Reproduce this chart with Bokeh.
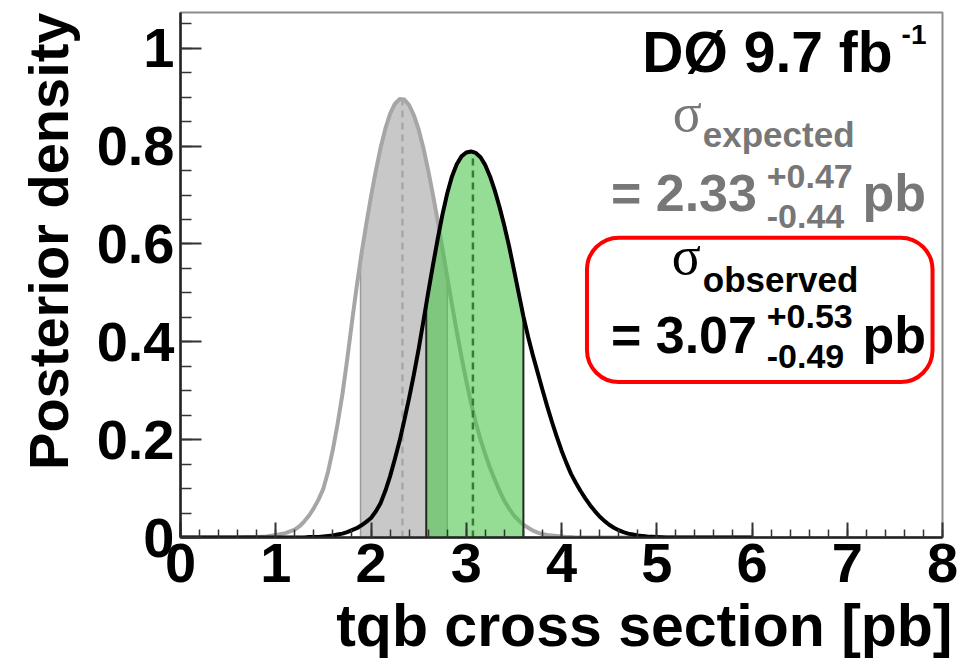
import numpy as np
from bokeh.plotting import figure
from bokeh.models import Range1d, FixedTicker, CustomJSTickFormatter, Label, BoxAnnotation, Title
from bokeh.embed import file_html
from bokeh.resources import INLINE

# ---------------- data ----------------
cross_section = [0.0, 0.1, 0.2, 0.3, 0.4, 0.5, 0.6, 0.7, 0.8, 0.9, 1.0, 1.1,
                 1.20, 1.25, 1.30, 1.35, 1.40, 1.45, 1.50, 1.55, 1.60, 1.65,
                 1.70, 1.75, 1.80, 1.85, 1.90, 1.95, 2.00, 2.05, 2.10, 2.15,
                 2.20, 2.25, 2.30, 2.35, 2.40, 2.45, 2.50, 2.55, 2.60, 2.65,
                 2.70, 2.75, 2.80, 2.85, 2.90, 2.95, 3.00, 3.05, 3.10, 3.15,
                 3.20, 3.25, 3.30, 3.35, 3.40, 3.45, 3.50, 3.55, 3.60, 3.65,
                 3.70, 3.75, 3.80, 3.85, 3.90, 3.95, 4.00, 4.05, 4.10, 4.15,
                 4.20, 4.25, 4.30, 4.35, 4.40, 4.45, 4.50, 4.55, 4.60, 4.65,
                 4.70, 4.75, 4.80,
                 4.9, 5.0, 5.1, 5.2, 5.3, 5.4, 5.5, 5.6, 5.7, 5.8, 5.9, 6.0]

expected_posterior = [0, 0, 0, 0, 0, 0, 0, 0.001, 0.001, 0.002, 0.005, 0.009,
                      0.016, 0.023, 0.033, 0.045, 0.060, 0.078, 0.100, 0.135, 0.180, 0.233,
                      0.293, 0.364, 0.440, 0.513, 0.580, 0.640, 0.697, 0.749, 0.796, 0.835,
                      0.866, 0.886, 0.896, 0.895, 0.884, 0.863, 0.834, 0.796, 0.751, 0.701,
                      0.647, 0.590, 0.533, 0.476, 0.421, 0.369, 0.320, 0.275, 0.235, 0.200,
                      0.170, 0.142, 0.118, 0.095, 0.075, 0.059, 0.045, 0.035, 0.026, 0.020,
                      0.014, 0.010, 0.007, 0.005, 0.004, 0.003, 0.002, 0.001, 0.001, 0,
                      0, 0, 0, 0, 0, 0, 0, 0, 0, 0,
                      0, 0, 0,
                      0, 0, 0, 0, 0, 0, 0, 0, 0, 0, 0, 0]

observed_posterior = [0, 0, 0, 0, 0, 0, 0, 0, 0, 0, 0, 0,
                      0, 0, 0, 0.001, 0.001, 0.001, 0.002, 0.003, 0.004, 0.006,
                      0.008, 0.011, 0.015, 0.019, 0.025, 0.032, 0.040, 0.053, 0.070, 0.095,
                      0.125, 0.160, 0.197, 0.240, 0.285, 0.333, 0.385, 0.442, 0.500, 0.556,
                      0.610, 0.660, 0.703, 0.738, 0.763, 0.779, 0.787, 0.789, 0.786, 0.777,
                      0.761, 0.738, 0.709, 0.675, 0.637, 0.595, 0.548, 0.500, 0.452, 0.410,
                      0.372, 0.337, 0.302, 0.268, 0.236, 0.206, 0.178, 0.153, 0.130, 0.112,
                      0.095, 0.080, 0.066, 0.054, 0.043, 0.034, 0.026, 0.020, 0.015, 0.011,
                      0.008, 0.006, 0.004,
                      0.002, 0.001, 0, 0, 0, 0, 0, 0, 0, 0, 0, 0]

expected_value = 2.33
expected_plus = 0.47
expected_minus = 0.44
observed_value = 3.07
observed_plus = 0.53
observed_minus = 0.49

x_ticks = [0, 1, 2, 3, 4, 5, 6, 7, 8]
y_ticks = [0.0, 0.2, 0.4, 0.6, 0.8, 1.0]
x_title = "tqb cross section [pb]"
y_title = "Posterior density"
lumi_text = "DØ 9.7 fb"
lumi_sup = "-1"

# ---------------- figure ----------------
W, H = 962, 664
ML, MR, MT, MB = 179, 20, 12, 125
XMAX, YMAX = 8.0, 1.073

p = figure(width=W, height=H, output_backend="svg", toolbar_location=None,
           x_range=Range1d(0, XMAX), y_range=Range1d(0, YMAX),
           min_border_left=ML, min_border_right=MR, min_border_top=MT, min_border_bottom=MB)
p.grid.visible = False
p.background_fill_color = "white"
p.border_fill_color = "white"
p.outline_line_color = "#8c8c8c"
p.outline_line_width = 2

FRAME_W = W - ML - MR
FRAME_H = H - MT - MB


def px2x(px):
    return (px - ML) / FRAME_W * XMAX


def py2y(py):
    return ((H - MB) - py) / FRAME_H * YMAX


FONT = "Liberation Sans"

# x axis
p.xaxis.ticker = FixedTicker(ticks=x_ticks,
                             minor_ticks=np.round(np.arange(0, XMAX + 0.001, 0.2), 2).tolist())
p.xaxis.major_tick_in = 15
p.xaxis.major_tick_out = 0
p.xaxis.minor_tick_in = 8
p.xaxis.minor_tick_out = 0
p.xaxis.major_label_standoff = 6

# y axis
p.yaxis.ticker = FixedTicker(ticks=y_ticks,
                             minor_ticks=np.round(np.arange(0, 1.0501, 0.05), 3).tolist())
p.yaxis.formatter = CustomJSTickFormatter(code="return (Math.round(tick*10)/10).toString();")
p.yaxis.major_tick_in = 21
p.yaxis.major_tick_out = 0
p.yaxis.minor_tick_in = 11
p.yaxis.minor_tick_out = 0
p.yaxis.major_label_standoff = 6

for ax in (p.xaxis[0], p.yaxis[0]):
    ax.axis_line_color = "#222222"
    ax.axis_line_width = 2.5
    ax.major_tick_line_color = "#333333"
    ax.major_tick_line_width = 2
    ax.minor_tick_line_color = "#333333"
    ax.minor_tick_line_width = 1.5
    ax.major_label_text_font = FONT
    ax.major_label_text_font_style = "bold"
    ax.major_label_text_font_size = "56px"
    ax.major_label_text_color = "black"

# axis titles, right-aligned as in the reference
p.add_layout(Title(text=x_title, align="right", offset=-10, standoff=12,
                   text_font=FONT, text_font_size="59px", text_font_style="bold",
                   text_color="black"), "below")
p.add_layout(Title(text=y_title, align="right", offset=0, standoff=28,
                   text_font=FONT, text_font_size="56px", text_font_style="bold",
                   text_color="black"), "left")

xs = np.array(cross_section)
ye = np.array(expected_posterior)
yo = np.array(observed_posterior)


def band(ys, lo, hi):
    inside = (xs > lo) & (xs < hi)
    bx = np.concatenate([[lo], xs[inside], [hi]])
    by = np.concatenate([[np.interp(lo, xs, ys)], ys[inside], [np.interp(hi, xs, ys)]])
    return bx, by


e_lo, e_hi = expected_value - expected_minus, expected_value + expected_plus
o_lo, o_hi = observed_value - observed_minus, observed_value + observed_plus

# expected band
bx, by = band(ye, e_lo, e_hi)
p.varea(x=bx, y1=np.zeros_like(by), y2=by, fill_color="#c8c8c8")
p.segment(x0=[e_lo, e_hi], y0=[0, 0], x1=[e_lo, e_hi],
          y1=[np.interp(e_lo, xs, ye), np.interp(e_hi, xs, ye)],
          line_color="#9a9a9a", line_width=1.5)
p.segment(x0=[expected_value], y0=[0], x1=[expected_value],
          y1=[np.interp(expected_value, xs, ye)],
          line_color="#a8a8a8", line_width=2.5, line_dash="7 5")
p.line(xs, ye, line_color="#a6a6a6", line_width=4, line_join="round")

# observed band
p.segment(x0=[observed_value], y0=[0], x1=[observed_value],
          y1=[np.interp(observed_value, xs, yo)],
          line_color="#111111", line_width=2.5, line_dash="7 5")
bx, by = band(yo, o_lo, o_hi)
p.varea(x=bx, y1=np.zeros_like(by), y2=by, fill_color="#4fc44f", fill_alpha=0.6)
p.segment(x0=[o_lo, o_hi], y0=[0, 0], x1=[o_lo, o_hi],
          y1=[np.interp(o_lo, xs, yo), np.interp(o_hi, xs, yo)],
          line_color="#1e2a1e", line_width=2)
p.line(xs, yo, line_color="black", line_width=4, line_join="round")

BASE_SHIFT = 0.38  # measured offset between requested and drawn baselines


def lab(text, px, py, size, color="black", bold=True, align="left", font=FONT):
    p.add_layout(Label(x=px2x(px), y=py2y(py - BASE_SHIFT * size), text=text, text_font=font,
                       text_font_size=f"{size}px",
                       text_font_style="bold" if bold else "normal",
                       text_color=color, text_align=align, text_baseline="alphabetic"))


# luminosity
lab(lumi_text, 892, 73, 57, align="right")
lab(lumi_sup, 901, 45, 28)

GREY = "#777777"
# expected
lab("σ", 672, 133, 54, color=GREY, bold=False, font="Liberation Serif")
lab("expected", 702, 148, 35, color=GREY)
lab(f"= {expected_value:.2f}", 610, 213, 52, color=GREY)
lab(f"+{expected_plus:.2f}", 766, 190, 34, color=GREY)
lab(f"-{expected_minus:.2f}", 766, 230, 34, color=GREY)
lab("pb", 862, 213, 52, color=GREY)

# observed
lab("σ", 671, 277, 54, color="black", bold=False, font="Liberation Serif")
lab("observed", 702, 293, 35)
lab(f"= {observed_value:.2f}", 610, 355, 52)
lab(f"+{observed_plus:.2f}", 766, 330, 34)
lab(f"-{observed_minus:.2f}", 766, 370, 34)
lab("pb", 862, 355, 52)

p.add_layout(BoxAnnotation(left=px2x(586), right=px2x(932), top=py2y(238), bottom=py2y(383),
                           fill_alpha=0, line_color="#ff0000", line_alpha=1.0, line_width=4,
                           border_radius=32))

open("out.html", "w").write(file_html(p, INLINE))
